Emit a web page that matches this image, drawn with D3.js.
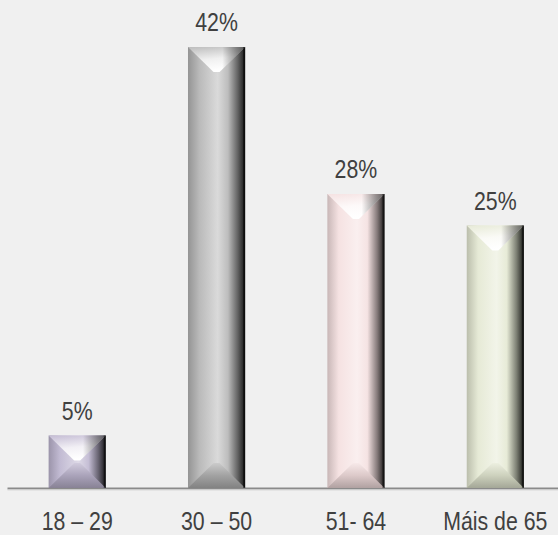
<!DOCTYPE html>
<html>
<head>
<meta charset="utf-8">
<script src="https://cdn.jsdelivr.net/npm/d3@7"></script>
<style>
  html, body { margin: 0; padding: 0; background: #f0f0f0; }
  svg { display: block; }
  text { font-family: "Liberation Sans Narrow", "Arial Narrow", "Liberation Sans", Arial, sans-serif; }
</style>
</head>
<body>
<svg id="chart" width="558" height="535"></svg>
<script>
const categories = ["18 – 29", "30 – 50", "51- 64", "Máis de 65"];
const values = [5, 42, 28, 25];
const valueLabels = ["5%", "42%", "28%", "25%"];
const barColors = ["#bdb5cf", "#b4b4b4", "#f4dfdf", "#e4e8d2"];

const W = 558, H = 535;
const baseY = 488;
const narrow = 0.82;
const svg = d3.select("#chart");
svg.append("rect").attr("width", W).attr("height", H).attr("fill", "#f0f0f0");

const x = d3.scaleBand().domain(categories).range([7.5, 565]).paddingInner(0.59).paddingOuter(0.295);
const y = d3.scaleLinear().domain([0, 40]).range([baseY, 68]);

const defs = svg.append("defs");
const mix = (a, b, t) => d3.interpolateRgb(a, b)(t);

categories.forEach((c, i) => {
  const base = barColors[i];
  const g = defs.append("linearGradient").attr("id", "body" + i)
    .attr("x1", 0).attr("y1", 0).attr("x2", 1).attr("y2", 0);
  [[0, mix(base, "#000", 0.18)], [0.2, mix(base, "#fff", 0.08)], [0.52, mix(base, "#fff", 0.5)],
   [0.7, mix(base, "#fff", 0.12)], [0.87, mix(base, "#000", 0.45)], [1, mix(base, "#000", 0.88)]]
    .forEach(([o, col]) => g.append("stop").attr("offset", o).attr("stop-color", col));
  const gt = defs.append("linearGradient").attr("id", "top" + i)
    .attr("x1", 0).attr("y1", 0).attr("x2", 0.25).attr("y2", 1);
  [[0, mix(base, "#fff", 0.1)], [0.55, mix(base, "#fff", 0.8)], [1, "#ffffff"]]
    .forEach(([o, col]) => gt.append("stop").attr("offset", o).attr("stop-color", col));
  const gtr = defs.append("linearGradient").attr("id", "topr" + i)
    .attr("x1", 0).attr("y1", 0).attr("x2", 1).attr("y2", 0);
  [[0, 0], [0.6, 0], [0.85, 0.4], [1, 0.6]]
    .forEach(([o, op]) => gtr.append("stop").attr("offset", o).attr("stop-color", "#000").attr("stop-opacity", op));
  const gb = defs.append("linearGradient").attr("id", "bot" + i)
    .attr("x1", 0).attr("y1", 1).attr("x2", 0).attr("y2", 0);
  [[0, mix(base, "#000", 0.28)], [0.5, mix(base, "#000", 0.1)], [1, mix(base, "#fff", 0.3)]]
    .forEach(([o, col]) => gb.append("stop").attr("offset", o).attr("stop-color", col));
});

svg.append("line").attr("x1", 7.5).attr("x2", W).attr("y1", baseY + 0.5).attr("y2", baseY + 0.5)
  .attr("stroke", "#8a8a8a").attr("stroke-width", 2);
svg.append("line").attr("x1", 7.5).attr("x2", W).attr("y1", baseY + 2).attr("y2", baseY + 2)
  .attr("stroke", "#d8d8d8").attr("stroke-width", 1);

const bars = svg.append("g").selectAll("g").data(values).join("g");
bars.each(function(v, i) {
  const gEl = d3.select(this);
  const x0 = x(categories[i]), bw = x.bandwidth(), x1 = x0 + bw, cx = x0 + bw / 2;
  const yt = y(v), yb = y(0), h = yb - yt;
  const d = Math.min(25, h / 2);
  const flat = d >= 25 ? 3 : 0;
  gEl.append("rect").attr("x", x0).attr("y", yt).attr("width", bw).attr("height", h)
    .attr("fill", `url(#body${i})`);
  gEl.append("polygon")
    .attr("points", [[x0, yb], [x1, yb], [cx + flat, yb - d], [cx - flat, yb - d]].map(p => p.join(",")).join(" "))
    .attr("fill", `url(#bot${i})`);
  const topPts = [[x0, yt], [x1, yt], [cx + flat, yt + d], [cx - flat, yt + d]].map(p => p.join(",")).join(" ");
  gEl.append("polygon").attr("points", topPts).attr("fill", `url(#top${i})`);
  gEl.append("polygon").attr("points", topPts).attr("fill", `url(#topr${i})`);
  gEl.append("rect").attr("x", x1 - 2).attr("y", yt).attr("width", 2).attr("height", h)
    .attr("fill", "#000").attr("opacity", 0.5);
});

// value labels (horizontally condensed to mimic a narrow face)
svg.append("g").selectAll("text").data(values).join("text")
  .attr("transform", (v, i) => `translate(${x(categories[i]) + x.bandwidth() / 2},${y(v) - 16}) scale(${narrow},1)`)
  .attr("text-anchor", "middle")
  .attr("font-size", 26)
  .attr("fill", "#404040")
  .text((v, i) => valueLabels[i]);

// category labels
const xAxis = d3.axisBottom(x).tickSize(0).tickPadding(0);
const ax = svg.append("g").attr("transform", `translate(0,${baseY})`).call(xAxis);
ax.select(".domain").remove();
ax.selectAll("text")
  .attr("y", 0).attr("dy", null)
  .attr("transform", `translate(0,41.5) scale(${narrow},1)`)
  .attr("font-size", 26)
  .attr("font-family", null)
  .attr("fill", "#404040");
</script>
</body>
</html>
